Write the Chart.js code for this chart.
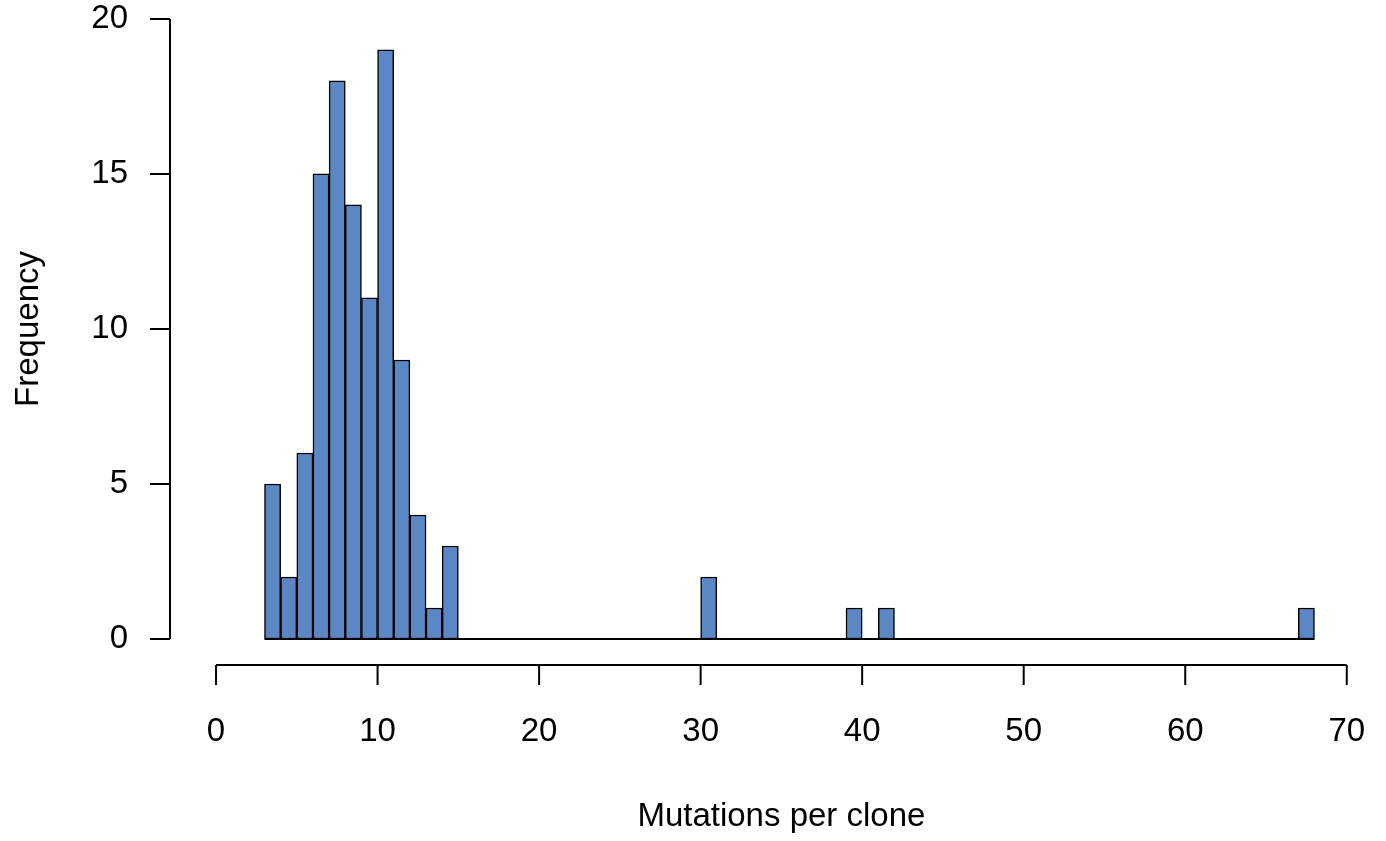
<!DOCTYPE html>
<html>
<head>
<meta charset="utf-8">
<title>Mutations per clone</title>
<script src="https://cdn.jsdelivr.net/npm/chart.js@4/dist/chart.umd.min.js"></script>
<style>
  html, body { margin: 0; padding: 0; background: #ffffff; }
  #wrap { width: 1386px; height: 841px; position: relative; }
</style>
</head>
<body>
<div id="wrap"><canvas id="histChart"></canvas></div>
<script>
// histogram bins (left edge of each 1-wide bin) and counts
const binStarts = [
  3, 4, 5, 6, 7, 8, 9, 10, 11, 12, 13, 14, 15, 16, 17, 18, 19, 20, 21, 22,
  23, 24, 25, 26, 27, 28, 29, 30, 31, 32, 33, 34, 35, 36, 37, 38, 39, 40, 41, 42,
  43, 44, 45, 46, 47, 48, 49, 50, 51, 52, 53, 54, 55, 56, 57, 58, 59, 60, 61, 62,
  63, 64, 65, 66, 67
];
const counts = [
  5, 2, 6, 15, 18, 14, 11, 19, 9, 4, 1, 3, 0, 0, 0, 0, 0, 0, 0, 0,
  0, 0, 0, 0, 0, 0, 0, 2, 0, 0, 0, 0, 0, 0, 0, 0, 1, 0, 1, 0,
  0, 0, 0, 0, 0, 0, 0, 0, 0, 0, 0, 0, 0, 0, 0, 0, 0, 0, 0, 0,
  0, 0, 0, 0, 1
];
const binWidth = 1;

const xTicks = [0, 10, 20, 30, 40, 50, 60, 70];
const yTicks = [0, 5, 10, 15, 20];

const xTitle = "Mutations per clone";
const yTitle = "Frequency";

const FONT = "33px 'Liberation Sans', Arial, sans-serif";

/* =========================================
   R-STYLE AXES (detached from the bars)
========================================= */
const rAxesPlugin = {
  id: "rAxes",
  afterDraw(chart) {
    const ctx = chart.ctx;
    const xs = chart.scales.x;
    const ys = chart.scales.y;
    const area = chart.chartArea;

    ctx.save();
    ctx.strokeStyle = "#000000";
    ctx.fillStyle = "#000000";
    ctx.lineWidth = 2;
    ctx.font = FONT;

    // x axis
    const xAxisY = area.bottom;
    const x0 = xs.getPixelForValue(xTicks[0]);
    const x1 = xs.getPixelForValue(xTicks[xTicks.length - 1]);
    ctx.beginPath();
    ctx.moveTo(x0, xAxisY);
    ctx.lineTo(x1, xAxisY);
    xTicks.forEach(t => {
      const px = xs.getPixelForValue(t);
      ctx.moveTo(px, xAxisY);
      ctx.lineTo(px, xAxisY + 20);
    });
    ctx.stroke();

    ctx.textAlign = "center";
    ctx.textBaseline = "middle";
    xTicks.forEach(t => {
      ctx.fillText(String(t), xs.getPixelForValue(t), 732);
    });

    // y axis
    const yAxisX = area.left;
    const yb = ys.getPixelForValue(yTicks[0]);
    const yt = ys.getPixelForValue(yTicks[yTicks.length - 1]);
    ctx.beginPath();
    ctx.moveTo(yAxisX, yb);
    ctx.lineTo(yAxisX, yt);
    yTicks.forEach(t => {
      const py = ys.getPixelForValue(t);
      ctx.moveTo(yAxisX, py);
      ctx.lineTo(yAxisX - 20, py);
    });
    ctx.stroke();

    ctx.textAlign = "right";
    yTicks.forEach(t => {
      ctx.fillText(String(t), 128, ys.getPixelForValue(t));
    });

    // titles
    ctx.textAlign = "center";
    ctx.fillText(xTitle, (x0 + x1) / 2, 817);

    ctx.translate(29, (yb + yt) / 2);
    ctx.rotate(-Math.PI / 2);
    ctx.fillText(yTitle, 0, 0);

    ctx.restore();
  }
};

/* =========================================
   BUILD CHART
========================================= */
const barPoints = binStarts.map((b, i) => ({ x: b + binWidth / 2, y: counts[i] }));
const lastEdge = binStarts[binStarts.length - 1] + binWidth;

new Chart(document.getElementById("histChart").getContext("2d"), {
  type: "bar",
  data: {
    datasets: [
      {
        type: "line",
        data: [{ x: binStarts[0], y: 0 }, { x: lastEdge, y: 0 }],
        borderColor: "#000000",
        borderWidth: 2,
        pointRadius: 0,
        fill: false,
        order: 0
      },
      {
        data: barPoints,
        backgroundColor: "#5b87c5",
        borderColor: "#000000",
        borderWidth: 1.5,
        borderSkipped: false,
        barPercentage: 1,
        categoryPercentage: 1,
        order: 1
      }
    ]
  },
  options: {
    responsive: true,
    maintainAspectRatio: false,
    animation: false,
    layout: {
      padding: { left: 170, right: 15, top: 5, bottom: 176 }
    },
    scales: {
      x: { type: "linear", min: -2.85, max: 71.5, offset: false, display: false },
      y: { type: "linear", min: -0.84, max: 20.45, display: false }
    },
    plugins: {
      legend: { display: false },
      tooltip: { enabled: false }
    }
  },
  plugins: [rAxesPlugin]
});
</script>
</body>
</html>
